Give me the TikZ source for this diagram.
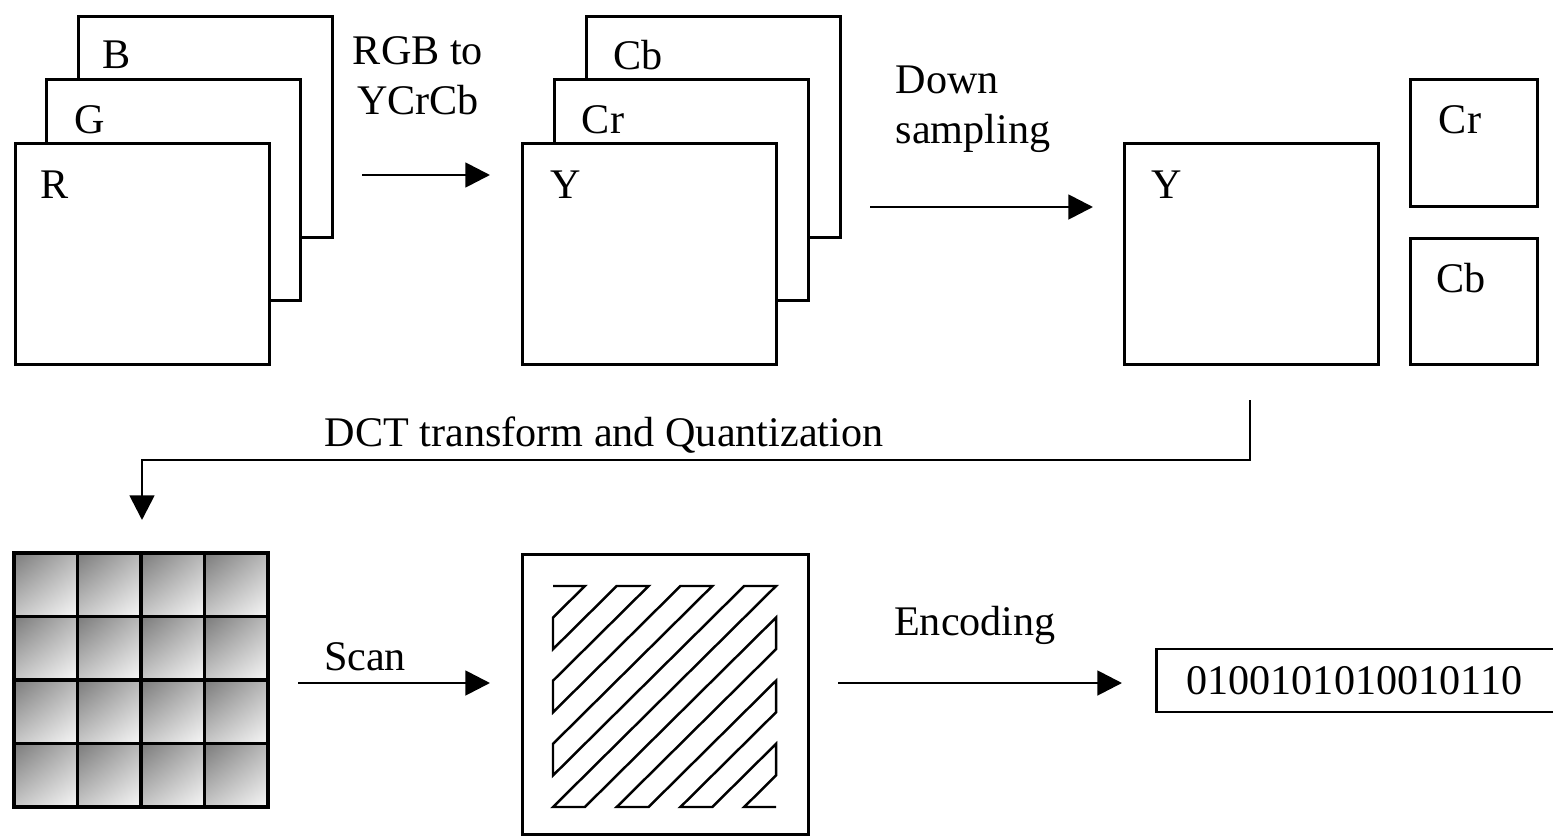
\documentclass[tikz,border=0pt]{standalone}
\usepackage{fontspec}
\setmainfont{Liberation Serif}
\usetikzlibrary{positioning,arrows.meta,shadings}

\begin{document}
\begin{tikzpicture}[x=1cm,y=-1cm,
  plane/.style={draw,fill=white,line width=0.8pt,inner sep=0pt,anchor=north west,
    minimum width=2.54cm,minimum height=2.21cm},
  smallplane/.style={plane,minimum width=1.27cm,minimum height=1.27cm},
  txt/.style={font=\fontsize{12}{14.2}\selectfont,inner sep=0pt},
  flow/.style={line width=0.8pt,-{Triangle[length=7pt,width=7pt]}}]
  \useasboundingbox (0,0) rectangle (15.53,8.37);
  % RGB planes
  \node[plane] (B) at (0.77,0.15) {};
  \node[plane] (G) at (0.45,0.78) {};
  \node[plane] (R) at (0.14,1.42) {};
  \node[txt] (lB) at (1.17,0.55) {B};
  \node[txt] (lG) at (0.90,1.20) {G};
  \node[txt] (lR) at (0.55,1.85) {R};
  % YCrCb planes
  \node[plane] (Cb) at (5.85,0.15) {};
  \node[plane] (Cr) at (5.53,0.78) {};
  \node[plane] (Y) at (5.21,1.42) {};
  \node[txt] (lCb) at (6.38,0.55) {Cb};
  \node[txt] (lCr) at (6.03,1.20) {Cr};
  \node[txt] (lY) at (5.66,1.85) {Y};
  % after down sampling
  \node[plane] (Yd) at (11.23,1.42) {};
  \node[smallplane] (Crd) at (14.09,0.78) {};
  \node[smallplane,minimum height=1.26cm] (Cbd) at (14.09,2.37) {};
  \node[txt] (lYd) at (11.67,1.85) {Y};
  \node[txt] (lCrd) at (14.60,1.20) {Cr};
  \node[txt] (lCbd) at (14.61,2.78) {Cb};
  % steps of the first row
  \coordinate (rgbS) at (3.62,1.75);
  \coordinate (rgbE) at (4.90,1.75);
  \draw[flow] (rgbS) -- (rgbE);
  \node[txt,align=center] (conv) at (4.18,0.76) {RGB to\\YCrCb};
  \coordinate (downS) at (8.70,2.07);
  \coordinate (downE) at (10.93,2.07);
  \draw[flow] (downS) -- (downE);
  \node[txt,align=left,anchor=west] (down) at (8.95,1.09) {Down\\sampling};
  % DCT
  \coordinate (dctS) at (12.50,4.00);
  \coordinate (dctE) at (1.42,5.20);
  \draw[flow] (dctS) |- (6.00,4.60) -| (dctE);
  \node[txt] (dct) at (6.04,4.35) {DCT transform and Quantization};
  % blocks
  \foreach \i in {0,...,3}
    \foreach \j in {0,...,3}
      \shadedraw[line width=1pt,upper left=black!52,upper right=black!28,
        lower left=black!22,lower right=black!3]
        (0.14+0.635*\i,5.53+0.635*\j) rectangle ++(0.635,0.635);
  % scan
  \coordinate (scanS) at (2.98,6.83);
  \coordinate (scanE) at (4.90,6.83);
  \draw[flow] (scanS) -- (scanE);
  \node[txt] (scan) at (3.65,6.57) {Scan};
  \node[draw,line width=0.8pt,inner sep=0pt,anchor=north west,
    minimum width=2.86cm,minimum height=2.80cm] (scanbox) at (5.21,5.53) {};
  \begin{scope}[shift={(5.53,5.86)},x=0.3186cm,y=-0.3157cm]
    \draw[line width=0.7pt] (0,0) -- (1,0) -- (0,1) -- (0,2) -- (2,0) -- (3,0)
      -- (0,3) -- (0,4) -- (4,0) -- (5,0) -- (0,5) -- (0,6) -- (6,0) -- (7,0)
      -- (0,7) -- (1,7) -- (7,1) -- (7,2) -- (2,7) -- (3,7) -- (7,3) -- (7,4)
      -- (4,7) -- (5,7) -- (7,5) -- (7,6) -- (6,7) -- (7,7);
  \end{scope}
  % encoding
  \coordinate (encS) at (8.38,6.83);
  \coordinate (encE) at (11.22,6.83);
  \draw[flow] (encS) -- (encE);
  \node[txt] (enc) at (9.75,6.25) {Encoding};
  \node[draw,line width=0.8pt,anchor=west,font=\fontsize{12}{14.2}\selectfont,
    inner xsep=0.30cm,text width=3.6cm,align=left,minimum height=0.63cm]
    (bits) at (11.55,6.805) {0100101010010110};
\end{tikzpicture}
\end{document}
